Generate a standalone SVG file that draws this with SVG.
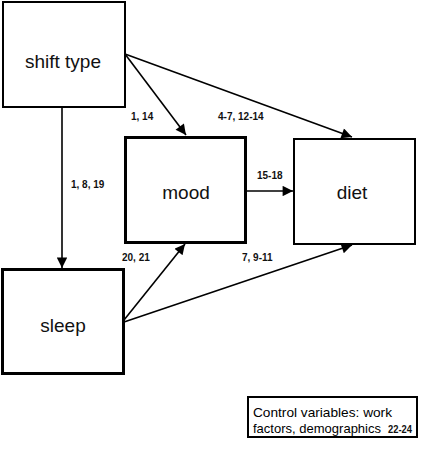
<svg xmlns="http://www.w3.org/2000/svg" width="421" height="451" viewBox="0 0 421 451">
<style>
.box{fill:#fff;stroke:#000}
.lbl{font-family:"Liberation Sans",Arial,sans-serif;font-size:19px;fill:#111;text-anchor:middle}
.num{font-family:"Liberation Sans",Arial,sans-serif;font-size:10px;font-weight:bold;fill:#111}
.ctl{font-family:"Liberation Sans",Arial,sans-serif;font-size:13.5px;fill:#000}
.edge{stroke:#000;stroke-width:1.6;fill:none;marker-end:url(#ah)}
</style>
<defs>
<marker id="ah" viewBox="0 0 10 10" refX="10" refY="5" markerWidth="7.5" markerHeight="6.5" markerUnits="strokeWidth" orient="auto">
<path d="M0,0 L10,5 L0,10 z" fill="#000"/>
</marker>
</defs>
<rect width="421" height="451" fill="#fff"/>
<g id="connectors">
<line class="edge" x1="125" y1="54" x2="186" y2="135"/>
<line class="edge" x1="125" y1="54" x2="352" y2="137"/>
<line class="edge" x1="62" y1="107" x2="62" y2="268"/>
<line class="edge" x1="246" y1="191" x2="293" y2="191"/>
<line class="edge" x1="124" y1="320" x2="185" y2="244"/>
<line class="edge" x1="124" y1="322" x2="352" y2="245"/>
</g>
<g id="labels">
<text class="num" x="131" y="120">1, 14</text>
<text class="num" x="218" y="120">4-7, 12-14</text>
<text class="num" x="257" y="179">15-18</text>
<text class="num" x="71" y="188">1, 8, 19</text>
<text class="num" x="122" y="261">20, 21</text>
<text class="num" x="242" y="261">7, 9-11</text>
</g>
<g id="shift-type">
<rect class="box" x="3" y="2" width="122" height="105" stroke-width="2"/>
<text class="lbl" x="63" y="68" font-size="20">shift type</text>
</g>
<g id="mood">
<rect class="box" x="125.5" y="137.5" width="120" height="105" stroke-width="3"/>
<text class="lbl" x="186" y="199">mood</text>
</g>
<g id="diet">
<rect class="box" x="294" y="139" width="121" height="105" stroke-width="2"/>
<text class="lbl" x="352" y="199" font-size="20">diet</text>
</g>
<g id="sleep">
<rect class="box" x="2.5" y="269.5" width="121" height="104" stroke-width="3"/>
<text class="lbl" x="63" y="332">sleep</text>
</g>
<g id="control">
<rect class="box" x="248" y="397" width="169" height="40" stroke-width="2"/>
<text class="ctl" x="253" y="417" textLength="139" lengthAdjust="spacingAndGlyphs">Control variables: work</text>
<text class="ctl" x="253" y="433" textLength="128" lengthAdjust="spacingAndGlyphs">factors, demographics</text>
<text class="num" x="388" y="433" textLength="24" lengthAdjust="spacingAndGlyphs">22-24</text>
</g>
</svg>
